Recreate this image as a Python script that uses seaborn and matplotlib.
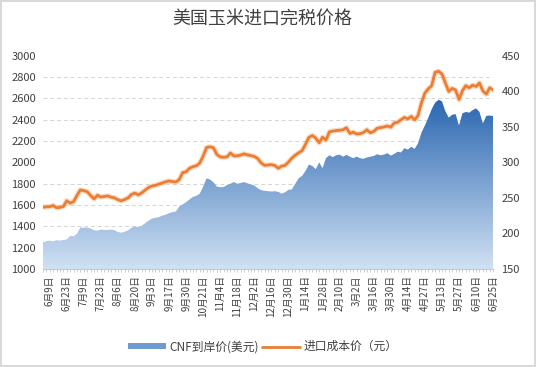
import numpy as np
import matplotlib
matplotlib.use('Agg')
import matplotlib.pyplot as plt
from matplotlib.colors import LinearSegmentedColormap
from matplotlib.patches import Patch
from matplotlib.lines import Line2D
import seaborn as sns

sns.set_theme(style='white')
plt.rcParams['font.family'] = ['Noto Sans CJK SC', 'DejaVu Sans']

date_labels = ['6月9日', '6月23日', '7月9日', '7月23日', '8月6日', '8月20日', '9月3日',
               '9月17日', '9月30日', '10月21日', '11月4日', '11月18日', '12月2日',
               '12月16日', '12月30日', '1月14日', '1月28日', '2月10日', '3月2日',
               '3月16日', '3月30日', '4月14日', '4月27日', '5月13日', '5月27日',
               '6月10日', '6月25日']

# 进口成本价 (元), left axis
cost_cny = [1580, 1582, 1585, 1595, 1575, 1578, 1586, 1640, 1618, 1632,
            1690, 1742, 1735, 1725, 1690, 1658, 1692, 1675, 1680, 1686,
            1674, 1668, 1650, 1640, 1652, 1668, 1700, 1712, 1695, 1715,
            1740, 1765, 1778, 1785, 1796, 1808, 1818, 1826, 1820, 1816,
            1840, 1905, 1912, 1945, 1960, 1968, 1994, 2060, 2140, 2146,
            2138, 2075, 2052, 2048, 2052, 2088, 2060, 2062, 2068, 2080,
            2070, 2064, 2056, 2035, 1995, 1972, 1976, 1978, 1972, 1945,
            1965, 1972, 2003, 2040, 2068, 2090, 2110, 2170, 2235, 2252,
            2228, 2185, 2236, 2210, 2286, 2294, 2298, 2302, 2306, 2325,
            2272, 2284, 2266, 2270, 2280, 2306, 2278, 2290, 2320, 2326,
            2332, 2342, 2330, 2370, 2376, 2400, 2422, 2408, 2432, 2400,
            2440, 2560, 2650, 2690, 2720, 2845, 2855, 2830, 2745, 2665,
            2694, 2680, 2590, 2672, 2720, 2700, 2725, 2712, 2745, 2670,
            2640, 2700, 2680]

# CNF到岸价 (美元), right axis
cnf_usd = [187.5, 189, 190, 189, 190.5, 190, 191, 191.5, 196.5, 196,
           199.5, 208.5, 208, 208.5, 207, 204.5, 204, 205.5, 205, 205,
           205.5, 204.5, 202, 201, 202.5, 204.5, 208, 210, 209, 211,
           214.5, 218, 221, 222, 223, 225, 226.5, 228.5, 230, 231,
           238, 241, 244, 248, 251.5, 253, 256, 266, 277.5, 276,
           272, 266, 265, 265.5, 268, 270, 272.4, 270, 271, 272.4,
           270.5, 269, 267.5, 263.5, 261, 260, 259.5, 259, 259.5, 258.5,
           256, 258, 261.4, 262, 270, 277.8, 281, 288, 297, 295,
           290.5, 300, 292, 306, 310, 307.5, 310, 311, 308, 310.6,
           308, 306, 308, 306, 305, 307, 308, 309, 311.5, 310,
           311, 313, 309.5, 312, 315, 314, 320, 318, 322, 319,
           327, 342, 352, 363, 375, 384, 388, 386, 372, 363,
           367, 368, 352, 369, 371, 370, 373.5, 376, 371, 355,
           365.4, 366, 365]

n = len(cost_cny)
x = np.arange(n)
label_pos = np.arange(2, n, 5)

fig = plt.figure(figsize=(5.36, 3.67), dpi=100, edgecolor='#d9d9d9', linewidth=1.5)
ax = fig.add_axes([0.080, 0.267, 0.840, 0.581])
ax2 = ax.twinx()
ax.set_zorder(ax2.get_zorder() + 1)
ax.patch.set_visible(False)

# gridlines on the right axis so they sit under the area
ax2.set_ylim(150, 450)
ax2.set_yticks(np.arange(150, 451, 50))
ax2.set_yticks(np.arange(150, 451, 30), minor=True)
ax2.yaxis.grid(True, which='minor', ls=(0, (4, 3)), color='#d4d4d4', lw=0.7)
ax2.set_axisbelow(True)

# gradient area
fill = ax2.fill_between(x, 150, cnf_usd, color='none', lw=0)
cmap = LinearSegmentedColormap.from_list('blu', ['#d0e1f3', '#2a66b0'])
grad = np.linspace(0, 1, 256).reshape(-1, 1)
img = ax2.imshow(grad, cmap=cmap, aspect='auto', origin='lower',
                 extent=[0, n - 1, 150, 390], zorder=1)
img.set_clip_path(fill.get_paths()[0], transform=ax2.transData)
ax2.set_xlim(0, n - 1)
ax2.set_ylim(150, 450)

# orange line with soft halo
ax.plot(x, cost_cny, color='#f4b183', lw=3.8, alpha=0.45, solid_capstyle='round')
sns.lineplot(x=x, y=cost_cny, ax=ax, color='#ed7d31', lw=2.0)

ax.set_xlim(0, n - 1)
ax.set_ylim(1000, 3000)
ax.set_yticks(np.arange(1000, 3001, 200))
ax.set_xticks(label_pos, date_labels)
ax.set_xticks(x, minor=True)
ax.tick_params(axis='x', which='both', direction='out', length=2.5, width=0.6,
               color='#c8c8c8', labelsize=7, labelcolor='#404040', pad=2, bottom=True)
ax.tick_params(axis='x', labelrotation=90)
ax.tick_params(axis='y', length=0, labelsize=8, labelcolor='#404040', pad=5)
ax2.tick_params(axis='y', which='both', length=0, labelsize=8, labelcolor='#404040', pad=6)

for s in ax.spines.values():
    s.set_visible(False)
for s in ax2.spines.values():
    s.set_visible(False)
ax.spines['bottom'].set_visible(True)
ax.spines['bottom'].set_color('#c8c8c8')
ax.spines['bottom'].set_linewidth(0.8)
ax.set_xlabel('')
ax.set_ylabel('')

fig.text(0.49, 0.948, '美国玉米进口完税价格', ha='center', va='center',
         fontsize=13, color='#404040')

handles = [Patch(facecolor='#6f9bd1', edgecolor='none'),
           Line2D([0], [0], color='#ed7d31', lw=2)]
fig.legend(handles, ['CNF到岸价(美元)', '进口成本价（元）'], loc='center',
           bbox_to_anchor=(0.49, 0.055), ncol=2, frameon=False, fontsize=8.5,
           handlelength=3.2, handleheight=0.5, columnspacing=0.3, handletextpad=0.3,
           labelcolor='#404040')

fig.savefig('out.png', dpi=100)
